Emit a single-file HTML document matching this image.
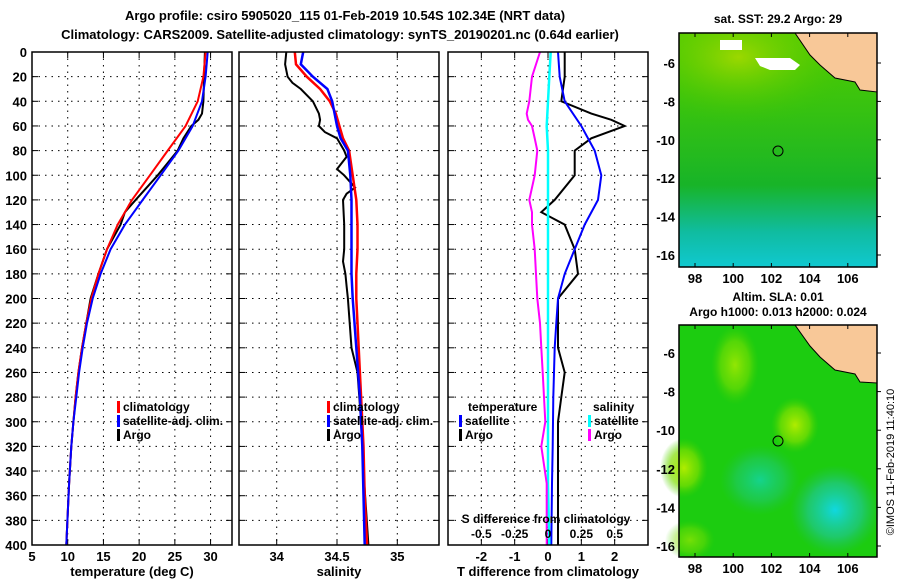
<!DOCTYPE html>
<html><head><meta charset="utf-8"><style>
body{margin:0;background:#fff;}
svg text{font-family:"Liberation Sans",sans-serif;font-weight:bold;fill:#000;}
</style></head><body>
<svg id="c" width="900" height="580" xmlns="http://www.w3.org/2000/svg">
<defs>
<radialGradient id="g1" cx="0.3" cy="0.2" r="0.6"><stop offset="0" stop-color="#9ad800"/><stop offset="1" stop-color="#20c000" stop-opacity="0"/></radialGradient>
<linearGradient id="sstg" x1="0" y1="0" x2="0" y2="1"><stop offset="0" stop-color="#30c800"/><stop offset="0.65" stop-color="#18b428"/><stop offset="0.85" stop-color="#10bca0"/><stop offset="1" stop-color="#10c8d0"/></linearGradient>
<linearGradient id="sstfade" x1="0" y1="0" x2="0" y2="1"><stop offset="0" stop-color="#a0d800" stop-opacity="0.3"/><stop offset="1" stop-color="#a0d800" stop-opacity="0"/></linearGradient>
<radialGradient id="sla1" cx="0.5" cy="0.5" r="0.5"><stop offset="0" stop-color="#10d8e0"/><stop offset="0.6" stop-color="#20c890" stop-opacity="0.7"/><stop offset="1" stop-color="#20c060" stop-opacity="0"/></radialGradient>
<radialGradient id="sla2" cx="0.5" cy="0.5" r="0.5"><stop offset="0" stop-color="#b0ec00"/><stop offset="0.6" stop-color="#80e000" stop-opacity="0.7"/><stop offset="1" stop-color="#40d000" stop-opacity="0"/></radialGradient>
</defs>
<g id="maps">
<text x="778" y="23" text-anchor="middle" font-size="12">sat. SST: 29.2 Argo: 29</text>
<rect x="679" y="33" width="198" height="234" fill="url(#sstg)"/>
<rect x="679" y="33" width="198" height="120" fill="url(#g1)"/>
<rect x="679" y="33" width="198" height="150" fill="url(#sstfade)"/>
<path d="M755,58 L790,58 L800,65 L795,70 L770,70 L760,66 Z" fill="#fff"/>
<rect x="720" y="40" width="22" height="10" fill="#fff"/>
<path d="M795,33 L877,33 L877,92 L860,90 L855,82 L835,78 L820,65 L810,55 Z" fill="#f8c898" stroke="#000" stroke-width="1"/>
<circle cx="778" cy="151" r="5" fill="none" stroke="#000"/>
<rect x="679" y="33" width="198" height="234" fill="none" stroke="#000" stroke-width="1.5"/>
<text x="778" y="301" text-anchor="middle" font-size="12">Altim. SLA: 0.01</text>
<text x="778" y="316" text-anchor="middle" font-size="12">Argo h1000: 0.013 h2000: 0.024</text>
<rect x="679" y="325" width="198" height="232" fill="#1ccc10"/>
<ellipse cx="835" cy="510" rx="45" ry="45" fill="url(#sla1)"/>
<ellipse cx="760" cy="480" rx="40" ry="35" fill="url(#sla1)" opacity="0.6"/>
<ellipse cx="795" cy="425" rx="24" ry="28" fill="url(#sla2)"/>
<ellipse cx="735" cy="365" rx="24" ry="40" fill="url(#sla2)" opacity="0.8"/>
<ellipse cx="684" cy="468" rx="24" ry="30" fill="url(#sla2)"/>
<ellipse cx="690" cy="540" rx="25" ry="20" fill="url(#sla2)" opacity="0.6"/>
<path d="M795,325 L877,325 L877,383 L860,382 L855,374 L835,370 L820,357 L810,346 Z" fill="#f8c898" stroke="#000" stroke-width="1"/>
<circle cx="778" cy="441" r="5" fill="none" stroke="#000"/>
<rect x="679" y="325" width="198" height="232" fill="none" stroke="#000" stroke-width="1.5"/>
<text transform="translate(894,462) rotate(-90)" text-anchor="middle" font-size="11" style="font-weight:normal">©IMOS 11-Feb-2019 11:40:10</text>
</g>
<text x="345" y="20" text-anchor="middle" font-size="13">Argo profile: csiro 5905020_115 01-Feb-2019 10.54S 102.34E (NRT data)</text>
<text x="340" y="39" text-anchor="middle" font-size="13">Climatology: CARS2009. Satellite-adjusted climatology: synTS_20190201.nc (0.64d earlier)</text>
</svg>
<script>
const depthTicks=[0,20,40,60,80,100,120,140,160,180,200,220,240,260,280,300,320,340,360,380,400];
const tTicks=[5,10,15,20,25,30];
const sTicks=[34,34.5,35];
const dTicks=[-2,-1,0,1,2];
const sdTicks=[-0.5,-0.25,0,0.25,0.5];
const mapLon=[98,100,102,104,106];
const mapLat=[-6,-8,-10,-12,-14,-16];
// temperature profiles
const climDepth=[0,20,40,60,80,100,120,140,160,180,200,220,240,260,280,300,320,350,400];
const climT=[29.3,29,28.2,26.5,24,21.5,19,17,15.5,14.3,13.3,12.6,12,11.5,11.1,10.8,10.5,10.2,9.8];
const satT=[29.6,29.3,28.8,27.5,25.5,23,20.5,18,16,14.6,13.5,12.7,12.1,11.6,11.2,10.8,10.5,10.2,9.8];
const argoDepth=[0,20,40,50,55,60,70,80,100,120,130,140,160,180,200,220,240,260,280,300,320,350,400];
const argoT=[29.2,29.1,29,28.8,28.3,27.3,26.2,25.4,22.6,19.5,18,17.4,15.5,14.3,13.2,12.6,12,11.5,11.1,10.8,10.5,10.2,9.8];
// salinity
const sDepth=[0,10,20,30,40,50,60,70,80,100,120,140,160,180,200,240,280,320,360,400];
const climS=[34.15,34.16,34.25,34.36,34.44,34.49,34.52,34.55,34.6,34.63,34.66,34.67,34.67,34.66,34.66,34.68,34.7,34.72,34.73,34.75];
const satS=[34.22,34.2,34.3,34.42,34.46,34.48,34.5,34.53,34.59,34.61,34.62,34.62,34.62,34.62,34.63,34.66,34.69,34.71,34.72,34.73];
const argoSDepth=[0,10,20,25,30,40,50,55,60,65,70,80,85,95,100,110,115,120,140,160,170,180,190,200,240,260,300,340,400];
const argoS=[34.08,34.07,34.09,34.13,34.2,34.3,34.35,34.36,34.35,34.4,34.5,34.56,34.58,34.5,34.56,34.65,34.58,34.55,34.56,34.56,34.55,34.57,34.58,34.59,34.62,34.67,34.7,34.72,34.76];
// differences
const argoDT=[0.5,0.5,0.4,1.3,1.9,2.3,1.3,0.8,0.8,0.2,-0.2,0.5,0.8,0.9,0.3,0.3,0.3,0.5,0.4,0.3,0.3,0.3,0.3];
const satDT=[0.3,0.35,0.5,1.0,1.4,1.6,1.5,1.1,0.8,0.5,0.3,0.25,0.2,0.18,0.16,0.15,0.14,0.12,0.1];
const satDS=[0.02,0.01,0.0,-0.01,0,0,0,0,0,0,0,0,0,0,0,0,0,0,0.01];
const argoDS=[-0.06,-0.12,-0.14,-0.16,-0.15,-0.12,-0.1,-0.08,-0.1,-0.14,-0.12,-0.12,-0.1,-0.09,-0.08,-0.06,-0.05,-0.04,-0.03,-0.02,-0.05,-0.01,-0.01];

const svg=document.getElementById('c');
const NS='http://www.w3.org/2000/svg';
function mk(tag,at,parent){const e=document.createElementNS(NS,tag);for(const k in at)e.setAttribute(k,at[k]);(parent||svg).appendChild(e);return e;}
const Y0=52,Y1=545;
function yD(d){return Y0+d*(Y1-Y0)/400;}
const panels=[
 {x0:32,x1:232,v0:5,v1:33,ticks:tTicks,lab:'temperature (deg C)',name:'temperature-panel'},
 {x0:239,x1:439,v0:33.8,v1:35.47,ticks:sTicks,lab:'salinity',name:'salinity-panel'},
 {x0:448,x1:648,v0:-3,v1:3,ticks:dTicks,lab:'T difference from climatology',name:'difference-panel'}];
panels.forEach(p=>{p.sx=v=>p.x0+(v-p.v0)*(p.x1-p.x0)/(p.v1-p.v0);});
panels[1].sx=v=>276.7+(v-34)*120.6;
panels.forEach((p,i)=>{
 const g=mk('g',{});
 
 
 depthTicks.forEach(d=>{const y=yD(d);
  if(d>0&&d<400)mk('line',{x1:p.x0,x2:p.x1,y1:y,y2:y,stroke:'#000','stroke-dasharray':'1.5,5'},g);
  mk('line',{x1:p.x0,x2:p.x0+6,y1:y,y2:y,stroke:'#000'},g);
  mk('line',{x1:p.x1-6,x2:p.x1,y1:y,y2:y,stroke:'#000'},g);
  if(i==0){const t=mk('text',{x:27,y:y+5,'text-anchor':'end','font-size':13},g);t.textContent=d;
   
   }
 });
 p.ticks.forEach(v=>{const x=p.sx(v);
  if(x>p.x0+1&&x<p.x1-1)mk('line',{x1:x,x2:x,y1:Y0,y2:Y1,stroke:'#000','stroke-dasharray':'1.5,5'},g);
  mk('line',{x1:x,x2:x,y1:Y0,y2:Y0+6,stroke:'#000'},g);
  mk('line',{x1:x,x2:x,y1:Y1-6,y2:Y1,stroke:'#000'},g);
  const t=mk('text',{x:x,y:561,'text-anchor':'middle','font-size':13},g);t.textContent=v;
  
  
 });
 const t=mk('text',{x:(p.x0+p.x1)/2,y:576,'text-anchor':'middle','font-size':13},g);t.textContent=p.lab;
 
 
 p.g=g;
});
function line(p,vals,depths,col,w,name){
 const pts=vals.map((v,i)=>p.sx(v).toFixed(1)+','+yD(depths[i]).toFixed(1)).join(' ');
 const e=mk('polyline',{points:pts,fill:'none',stroke:col,'stroke-width':w});
 
 
}
const P=panels;
line(P[0],argoT,argoDepth,'#000',2,'argo-temperature-line');
line(P[0],climT,climDepth,'#f00',2,'climatology-temperature-line');
line(P[0],satT,climDepth,'#00f',2,'satellite-temperature-line');
line(P[1],argoS,argoSDepth,'#000',2,'argo-salinity-line');
line(P[1],climS,sDepth,'#f00',2.5,'climatology-salinity-line');
line(P[1],satS,sDepth,'#00f',2.5,'satellite-salinity-line');
line(P[2],argoDT,argoDepth,'#000',2,'argo-t-difference-line');
line(P[2],satDT,climDepth,'#00f',2,'satellite-t-difference-line');
line(P[2],satDS.map(v=>v*4),climDepth,'#0ff',2.5,'satellite-s-difference-line');
line(P[2],argoDS.map(v=>v*4),argoDepth,'#f0f',2,'argo-s-difference-line');
const sdT=mk('text',{x:546,y:523,'text-anchor':'middle','font-size':12});sdT.textContent='S difference from climatology';


sdTicks.forEach(v=>{const t=mk('text',{x:P[2].sx(v*4),y:538,'text-anchor':'middle','font-size':12});t.textContent=v;
 
 });
panels.forEach(p=>mk('rect',{x:p.x0,y:Y0,width:p.x1-p.x0,height:Y1-Y0,fill:'none',stroke:'#000','stroke-width':1.5}));
function leg(x,y,col,txt,name){
 mk('rect',{x:x,y:y-10,width:3,height:12,fill:col});
 const t=mk('text',{x:x+6,y:y,'font-size':12});t.textContent=txt;
 
 
}
leg(117,411,'#f00','climatology','legend-climatology');
leg(117,425,'#00f','satellite-adj. clim.','legend-satellite-adj');
leg(117,439,'#000','Argo','legend-argo');
leg(327,411,'#f00','climatology','legend-climatology-2');
leg(327,425,'#00f','satellite-adj. clim.','legend-satellite-adj-2');
leg(327,439,'#000','Argo','legend-argo-2');
const tt=mk('text',{x:468,y:411,'font-size':12});tt.textContent='temperature';


leg(459,425,'#00f','satellite','legend-t-satellite');
leg(459,439,'#000','Argo','legend-t-argo');
const st=mk('text',{x:593,y:411,'font-size':12});st.textContent='salinity';


leg(588,425,'#0ff','satellite','legend-s-satellite');
leg(588,439,'#f0f','Argo','legend-s-argo');
function mapAxes(top,bottom,latY0,latY16){
 mapLon.forEach(l=>{const x=695+(l-98)*19.1;
  mk('line',{x1:x,x2:x,y1:bottom-4,y2:bottom,stroke:'#000'});
  mk('line',{x1:x,x2:x,y1:top,y2:top+4,stroke:'#000'});
  const t=mk('text',{x:x,y:bottom+16,'text-anchor':'middle','font-size':13});t.textContent=l;
  
  });
 mapLat.forEach(l=>{const y=latY0+(-6-l)*(latY16-latY0)/10;
  mk('line',{x1:877,x2:881,y1:y,y2:y,stroke:'#000'});
  const t=mk('text',{x:675,y:y+5,'text-anchor':'end','font-size':13});t.textContent=l;
  
  });
}
mapAxes(33,267,63,255);
mapAxes(325,557,353,546);
</script>
</body></html>
